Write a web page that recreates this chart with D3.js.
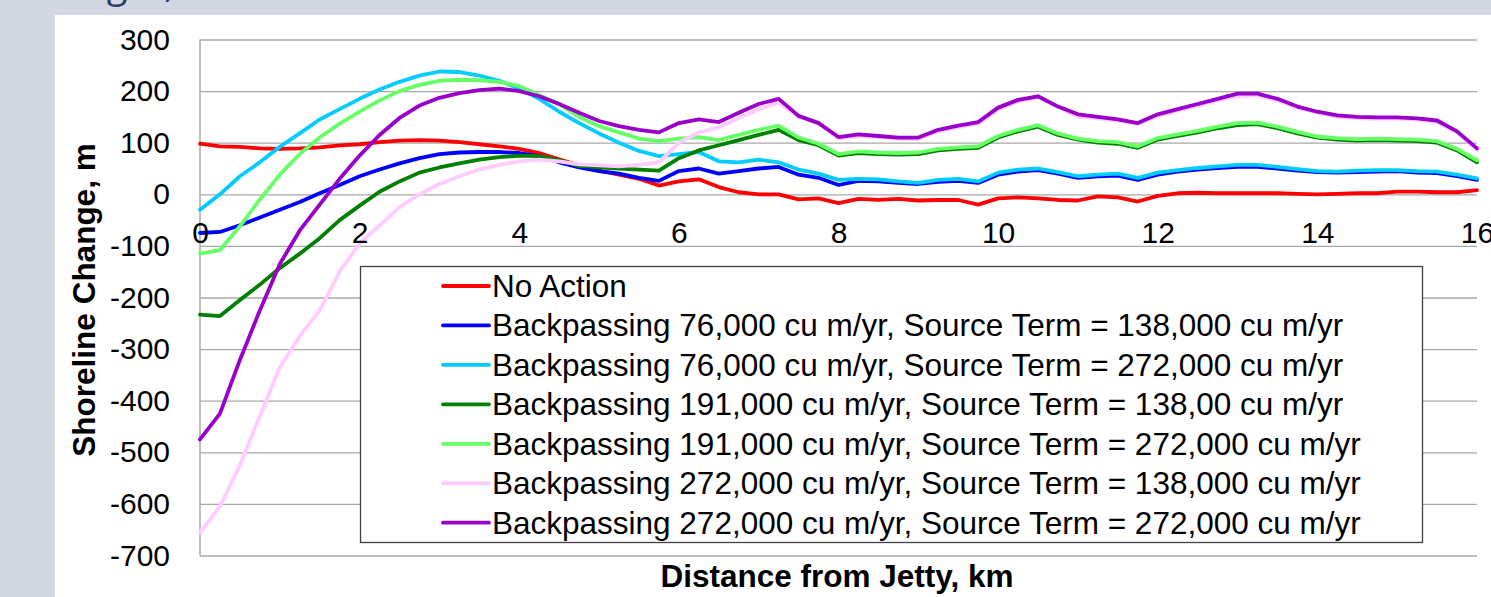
<!DOCTYPE html>
<head>
  <meta charset="utf-8">
  <script src="https://d3js.org/d3.v7.min.js"></script>
  <title>Shoreline Change</title>
  <style>
    body { margin: 0; background: #d3d7e2; overflow: hidden; }
    svg { display: block; font-family: 'Liberation Sans', Arial, sans-serif; }
  </style>
</head>
<body>
<div id="vis"></div>
<script>
// distance from jetty (km), sampled every 0.25 km
const distanceKm = d3.range(0, 16.01, 0.25)

// shoreline change (m) per scenario
const noAction = [98, 93, 92, 89, 88, 89, 91, 95, 97, 101, 104, 105, 104, 101, 97, 93, 88, 80, 68, 56, 46, 38, 30, 17, 25, 29, 14, 4, 0, 0, -10, -8, -17, -9, -11, -9, -12, -11, -11, -20, -8, -6, -8, -11, -12, -4, -6, -14, -3, 2, 3, 2, 2, 2, 2, 1, 0, 1, 2, 2, 5, 5, 4, 4, 8]
const bp76st138 = [-75, -73, -60, -45, -30, -15, 2, 18, 35, 48, 60, 70, 78, 81, 82, 82, 80, 74, 62, 52, 45, 40, 32, 26, 45, 50, 40, 45, 50, 53, 38, 32, 18, 26, 25, 22, 20, 24, 26, 22, 38, 44, 47, 40, 32, 35, 36, 28, 38, 44, 48, 51, 53, 53, 50, 46, 43, 42, 43, 44, 45, 42, 41, 35, 28]
const bp76st272 = [-30, 0, 35, 62, 92, 118, 145, 165, 185, 203, 218, 230, 238, 237, 230, 220, 205, 185, 160, 138, 118, 100, 84, 74, 78, 82, 64, 62, 67, 62, 48, 40, 28, 30, 29, 25, 22, 28, 30, 25, 42, 48, 50, 43, 35, 38, 40, 32, 42, 47, 51, 54, 57, 57, 53, 49, 45, 44, 46, 47, 47, 45, 44, 38, 31]
const bp191st138 = [-233, -236, -205, -175, -143, -115, -85, -50, -22, 5, 25, 42, 52, 60, 67, 72, 75, 74, 66, 55, 52, 50, 48, 46, 70, 85, 95, 105, 115, 125, 105, 95, 75, 80, 78, 77, 78, 85, 88, 90, 110, 122, 131, 115, 106, 100, 98, 90, 106, 113, 120, 128, 134, 136, 128, 118, 110, 106, 104, 105, 104, 103, 100, 85, 62]
const bp191st272 = [-115, -108, -62, -10, 38, 78, 110, 137, 160, 182, 200, 212, 220, 222, 221, 218, 210, 192, 175, 150, 132, 120, 108, 103, 108, 111, 105, 115, 125, 133, 110, 98, 78, 83, 81, 80, 81, 88, 91, 93, 113, 125, 134, 118, 108, 103, 101, 93, 109, 116, 123, 131, 138, 139, 131, 121, 112, 109, 107, 108, 107, 106, 103, 88, 66]
const bp272st138 = [-655, -605, -525, -430, -335, -275, -225, -150, -95, -60, -25, 0, 20, 35, 48, 57, 64, 67, 64, 58, 56, 54, 57, 62, 100, 120, 130, 148, 165, 178, 150, 140, 108, 113, 111, 108, 107, 122, 130, 137, 165, 180, 188, 170, 150, 147, 143, 136, 152, 162, 172, 182, 190, 192, 182, 168, 158, 150, 147, 146, 146, 145, 140, 120, 86]
const bp272st272 = [-475, -425, -321, -225, -135, -70, -20, 30, 75, 115, 148, 172, 187, 196, 202, 205, 200, 190, 175, 158, 142, 132, 125, 120, 138, 145, 140, 158, 175, 185, 152, 138, 111, 116, 113, 110, 110, 125, 133, 140, 168, 183, 190, 170, 155, 150, 145, 138, 155, 165, 175, 185, 195, 195, 185, 170, 160, 153, 150, 149, 149, 147, 143, 122, 89]

const seriesNames = [
  'No Action',
  'Backpassing 76,000 cu m/yr, Source Term = 138,000 cu m/yr',
  'Backpassing 76,000 cu m/yr, Source Term = 272,000 cu m/yr',
  'Backpassing 191,000 cu m/yr, Source Term = 138,00 cu m/yr',
  'Backpassing 191,000 cu m/yr, Source Term = 272,000 cu m/yr',
  'Backpassing 272,000 cu m/yr, Source Term = 138,000 cu m/yr',
  'Backpassing 272,000 cu m/yr, Source Term = 272,000 cu m/yr'
]
const seriesValues = [noAction, bp76st138, bp76st272, bp191st138, bp191st272, bp272st138, bp272st272]
const seriesColors = ['#ff0000', '#0000ff', '#00ccff', '#008000', '#66ff66', '#ffccff', '#9900cc']

const yTicks = d3.range(-700, 301, 100)
const xTicks = d3.range(0, 17, 2)

function shorelineChart (selector) {
  const width = 1491
  const height = 597

  const svg = d3.select(selector)
    .append('svg')
    .attr('width', width)
    .attr('height', height)

  // slide background, the slide title peeking in at the top, white chart panel
  svg.append('rect').attr('width', width).attr('height', height).attr('fill', '#d3d7e2')
  svg.append('text')
    .attr('x', 17)
    .attr('y', -3)
    .attr('fill', '#2b3a67')
    .style('font-family', "'Open Sans', sans-serif")
    .style('font-style', 'italic')
    .style('font-size', '40px')
    .text('Changes, ')
  svg.append('rect')
    .attr('x', 55).attr('y', 15)
    .attr('width', width - 55).attr('height', height - 15)
    .attr('fill', '#ffffff')

  const x = d3.scaleLinear().domain([0, 16]).range([200, 1477])
  const y = d3.scaleLinear().domain([-700, 300]).range([555.5, 39.5])

  // horizontal gridlines
  const grid = svg.append('g')
    .attr('transform', `translate(${x(0)},0)`)
    .call(d3.axisLeft(y).tickValues(yTicks).tickSize(-(x(16) - x(0))).tickFormat(''))
  grid.select('.domain').remove()
  grid.selectAll('line').attr('stroke', '#a8a8a8').attr('stroke-width', 1.3)

  // plot area left edge
  svg.append('line')
    .attr('x1', x(0)).attr('x2', x(0))
    .attr('y1', y(300)).attr('y2', y(-700))
    .attr('stroke', '#a8a8a8').attr('stroke-width', 1.5)

  // y tick labels (plain hyphen minus like the original)
  const yAxis = svg.append('g')
    .attr('transform', `translate(${x(0)},0)`)
    .call(d3.axisLeft(y).tickValues(yTicks).tickSize(0).tickPadding(30).tickFormat(d => String(d)))
  yAxis.select('.domain').remove()
  yAxis.selectAll('text')
    .attr('fill', '#000')
    .style('font-size', '30px')
    .style('font-family', "'Liberation Sans', Arial, sans-serif")

  // series
  const line = d3.line()
    .x((d, i) => x(distanceKm[i]))
    .y(d => y(d))

  svg.append('g')
    .selectAll('path')
    .data(seriesValues)
    .join('path')
    .attr('d', line)
    .attr('fill', 'none')
    .attr('stroke', (d, i) => seriesColors[i])
    .attr('stroke-width', 3.8)
    .attr('stroke-linejoin', 'round')
    .attr('stroke-linecap', 'round')

  // x tick labels hang below the zero line
  const xAxis = svg.append('g')
    .attr('transform', `translate(0,${y(0)})`)
    .call(d3.axisBottom(x).tickValues(xTicks).tickSize(0).tickPadding(27))
  xAxis.select('.domain').remove()
  xAxis.selectAll('text')
    .attr('fill', '#000')
    .style('font-size', '30px')
    .style('font-family', "'Liberation Sans', Arial, sans-serif")

  // axis titles
  svg.append('text')
    .attr('transform', 'translate(95,300) rotate(-90)')
    .attr('text-anchor', 'middle')
    .style('font-weight', 'bold')
    .style('font-size', '31.5px')
    .text('Shoreline Change, m')

  svg.append('text')
    .attr('x', 837)
    .attr('y', 587)
    .attr('text-anchor', 'middle')
    .style('font-weight', 'bold')
    .style('font-size', '31.5px')
    .text('Distance from Jetty, km')

  // legend
  const legend = svg.append('g')
  legend.append('rect')
    .attr('x', 360.5).attr('y', 266.5)
    .attr('width', 1062).attr('height', 276)
    .attr('fill', '#ffffff')
    .attr('stroke', '#404040')
    .attr('stroke-width', 1.3)

  const rows = legend.selectAll('g.row')
    .data(seriesNames)
    .join('g')
    .attr('class', 'row')
    .attr('transform', (d, i) => `translate(0,${286 + i * 39.45})`)

  rows.append('line')
    .attr('x1', 443).attr('x2', 489)
    .attr('stroke', (d, i) => seriesColors[i])
    .attr('stroke-width', 3.8)
    .attr('stroke-linecap', 'round')

  rows.append('text')
    .attr('x', 492)
    .attr('dy', '0.35em')
    .style('font-size', '31.5px')
    .text(d => d)
}

shorelineChart('#vis')
</script>
</body>
